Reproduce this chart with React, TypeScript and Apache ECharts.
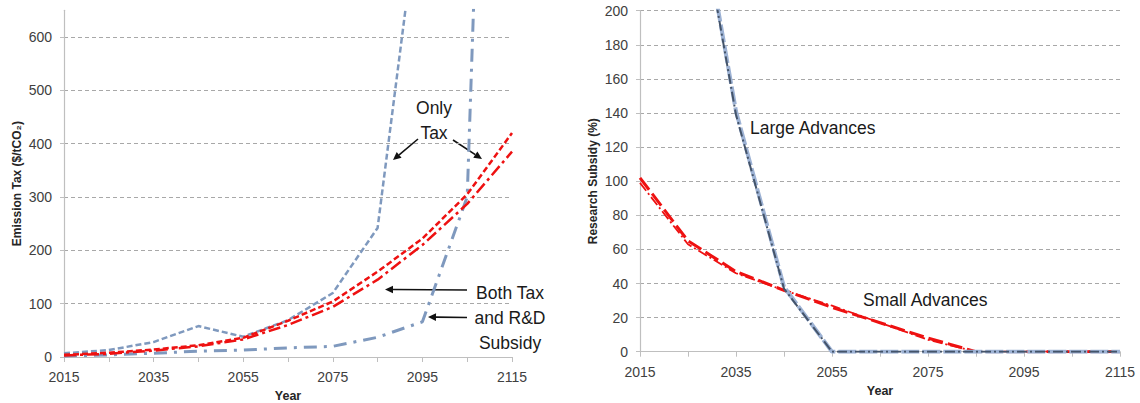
import React, { useEffect, useRef } from "react";
import * as echarts from "echarts";

// ---- data ----
const years = ["2015", "2025", "2035", "2045", "2055", "2065", "2075", "2085", "2095", "2105", "2115"];

// Left chart: Emission Tax ($/tCO2)
const onlyTaxDashed = [7, 13, 28, 58, 38, 69, 120, 242, 900, null, null];
const onlyTaxDashDot = [2, 4, 7, 11, 13, 17, 20, 37, 66, 300, 2800];
const bothDashed = [4, 8, 14, 22, 36, 68, 104, 160, 222, 305, 420];
const bothDashDot = [3, 6, 12, 20, 33, 60, 94, 145, 210, 287, 385];
const taxTicks = [0, 100, 200, 300, 400, 500, 600];

// Right chart: Research Subsidy (%)
const largeAdvA = [null, 301, 141, 38, 0, 0, 0, 0, 0, 0, 0];
const largeAdvB = [null, 298, 139, 37, 0, 0, 0, 0, 0, 0, 0];
const smallAdvA = [102, 65, 47, 36, 26, 17, 8, 0, 0, 0, 0];
const smallAdvB = [99, 63, 46, 36, 27, 17, 7, 0, 0, 0, 0];

const FONT = "'Liberation Sans', Arial, sans-serif";
const AXIS = "#bfbfbf";
const GRID = "#a8a8a8";
const LABEL = "#404040";
const BLUE = "#7f99be";
const RED = "#ee1111";
const DARK = "#44546a";
const LIGHTBLUE = "#9db2d4";

function arrow(x1: number, y1: number, x2: number, y2: number) {
  const a = Math.atan2(y2 - y1, x2 - x1);
  const L = 8;
  const W = 3.8;
  const bx = x2 - L * Math.cos(a);
  const by = y2 - L * Math.sin(a);
  return [
    { type: "line", shape: { x1, y1, x2: bx, y2: by }, style: { stroke: "#111", lineWidth: 1.6 } },
    {
      type: "polygon",
      shape: {
        points: [
          [x2, y2],
          [bx + W * Math.sin(a), by - W * Math.cos(a)],
          [bx - W * Math.sin(a), by + W * Math.cos(a)],
        ],
      },
      style: { fill: "#111" },
    },
  ];
}

function label(text: string, x: number, y: number, align = "center") {
  return {
    type: "text",
    x,
    y,
    style: { text, fontSize: 17.5, fontFamily: FONT, fill: "#1a1a1a", align, verticalAlign: "middle" },
  };
}

function xAxisCfg(gridIndex: number, nameGap: number) {
  return {
    gridIndex,
    type: "category",
    data: years,
    boundaryGap: false,
    axisLine: { show: true, lineStyle: { color: AXIS, width: 1.2 } },
    axisTick: { show: true, interval: 0, length: 5, lineStyle: { color: AXIS } },
    axisLabel: { interval: 1, margin: 13, fontSize: 14, color: LABEL, fontFamily: FONT },
    splitLine: { show: false },
    name: "Year",
    nameLocation: "middle",
    nameGap,
    nameTextStyle: { fontWeight: "bold", fontSize: 12.5, color: "#262626", fontFamily: FONT },
  };
}

export default function App() {
  const ref = useRef<HTMLDivElement>(null);
  useEffect(() => {
    if (!ref.current) return;
    const chart = echarts.init(ref.current, null, { renderer: "svg" });
    const option: any = {
      animation: false,
      backgroundColor: "#ffffff",
      grid: [
        { left: 64, top: 10.3, width: 448, height: 346.7, containLabel: false, outerBoundsMode: "none" },
        { left: 640, top: 10.7, width: 480, height: 341, containLabel: false, outerBoundsMode: "none" },
      ],
      xAxis: [xAxisCfg(0, 32), xAxisCfg(1, 33)],
      yAxis: [
        {
          gridIndex: 0,
          type: "value",
          min: 0,
          max: 650,
          interval: 100,
          axisLine: { show: true, lineStyle: { color: AXIS, width: 1.2 } },
          axisTick: { show: true, length: 4, lineStyle: { color: AXIS }, customValues: taxTicks },
          axisLabel: {
            margin: 12,
            fontSize: 14,
            color: LABEL,
            fontFamily: FONT,
            customValues: taxTicks,
          },
          splitLine: { show: true, showMinLine: false, lineStyle: { color: GRID, type: [4, 3], width: 1 } },
          name: "Emission Tax ($/tCO₂)",
          nameLocation: "middle",
          nameGap: 41,
          nameTextStyle: { fontWeight: "bold", fontSize: 12, color: "#262626", fontFamily: FONT },
        },
        {
          gridIndex: 1,
          type: "value",
          min: 0,
          max: 200,
          interval: 20,
          axisLine: { show: true, lineStyle: { color: AXIS, width: 1.2 } },
          axisTick: { show: true, length: 4, lineStyle: { color: AXIS } },
          axisLabel: { margin: 12, fontSize: 14, color: LABEL, fontFamily: FONT },
          splitLine: { show: true, showMinLine: false, showMaxLine: true, lineStyle: { color: GRID, type: [4, 3], width: 1 } },
          name: "Research Subsidy (%)",
          nameLocation: "middle",
          nameGap: 41,
          nameTextStyle: { fontWeight: "bold", fontSize: 12, color: "#262626", fontFamily: FONT },
        },
      ],
      series: [
        {
          name: "Only Tax (dashed)",
          type: "line",
          xAxisIndex: 0,
          yAxisIndex: 0,
          data: onlyTaxDashed,
          symbol: "none",
          lineStyle: { color: BLUE, width: 2.5, type: [6, 3] },
        },
        {
          name: "Only Tax (dash-dot)",
          type: "line",
          xAxisIndex: 0,
          yAxisIndex: 0,
          data: onlyTaxDashDot,
          symbol: "none",
          lineStyle: { color: BLUE, width: 3, type: [13, 7, 3, 7] },
        },
        {
          name: "Both (dashed)",
          type: "line",
          xAxisIndex: 0,
          yAxisIndex: 0,
          data: bothDashed,
          symbol: "none",
          lineStyle: { color: RED, width: 2.5, type: [6, 3] },
        },
        {
          name: "Both (dash-dot)",
          type: "line",
          xAxisIndex: 0,
          yAxisIndex: 0,
          data: bothDashDot,
          symbol: "none",
          lineStyle: { color: RED, width: 2.5, type: [12, 4, 3, 4] },
        },
        {
          name: "Small Advances A",
          type: "line",
          xAxisIndex: 1,
          yAxisIndex: 1,
          data: smallAdvA,
          symbol: "none",
          lineStyle: { color: RED, width: 3, type: [15, 5] },
        },
        {
          name: "Small Advances B",
          type: "line",
          xAxisIndex: 1,
          yAxisIndex: 1,
          data: smallAdvB,
          symbol: "none",
          lineStyle: { color: RED, width: 1.8, type: [10, 3, 2, 3] },
        },
        {
          name: "Large Advances A",
          type: "line",
          xAxisIndex: 1,
          yAxisIndex: 1,
          data: largeAdvA,
          symbol: "none",
          lineStyle: { color: LIGHTBLUE, width: 4, type: [18, 3] },
        },
        {
          name: "Large Advances B",
          type: "line",
          xAxisIndex: 1,
          yAxisIndex: 1,
          data: largeAdvB,
          symbol: "none",
          lineStyle: { color: DARK, width: 2, type: [10, 3, 2, 3] },
        },
      ],
      graphic: [
        label("Only", 434, 108),
        label("Tax", 434, 133),
        ...arrow(418, 139, 393, 160),
        ...arrow(453, 140, 482, 159),
        label("Both Tax", 510, 293),
        label("and R&D", 510, 318),
        label("Subsidy", 510, 343),
        ...arrow(467, 290, 385, 289.5),
        ...arrow(467, 317.5, 428, 317),
        label("Large Advances", 750, 128, "left"),
        label("Small Advances", 863, 300, "left"),
      ],
    };
    chart.setOption(option);
    return () => chart.dispose();
  }, []);
  return <div ref={ref} style={{ position: "absolute", left: 0, top: 0, width: 1140, height: 403 }} />;
}
